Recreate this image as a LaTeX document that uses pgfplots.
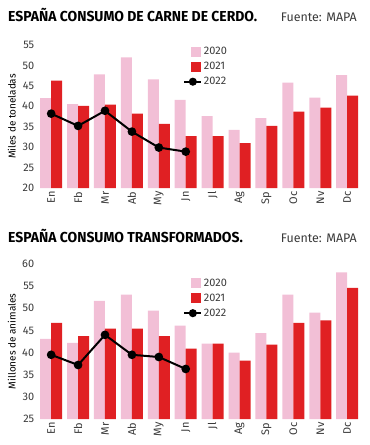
\documentclass[border=0pt]{standalone}
\usepackage{pgfplots}
\pgfplotsset{compat=1.18}
\usepackage{fontspec}
\setmainfont{Fira Sans}
\newfontfamily\titlefont[FakeStretch=0.965]{Fira Sans}
\definecolor{pinkA}{HTML}{F2BFD6}
\definecolor{redB}{HTML}{E02023}
\definecolor{txt}{HTML}{3A3A3A}

\pgfplotsset{
 mystyle/.style={
  scale only axis, width=323bp, xmin=-0.5, xmax=11.5,
  axis line style={draw=none}, major tick length=0pt,
  xtick={0,...,11}, xticklabels={En,Fb,Mr,Ab,My,Jn,Jl,Ag,Sp,Oc,Nv,Dc},
  xticklabel style={rotate=90, anchor=east, font=\fontsize{11}{12}\selectfont, text=txt},
  yticklabel style={font=\fontsize{11}{12}\selectfont, text=txt},
  /pgf/number format/assume math mode=true,
  ylabel style={font=\fontsize{11}{12}\selectfont, text=txt},
  every axis y label/.style={at={(axis description cs:-0.08,0.5)}, rotate=90, anchor=center},
  legend style={draw=none, fill=none, font=\fontsize{11}{12}\selectfont, text=txt, row sep=3pt, inner sep=0pt, cells={anchor=west}, nodes={inner sep=1.5pt}},
  legend cell align=left,
 },
 pinkbar/.style={ybar, bar width=11bp, bar shift=-5.5bp, fill=pinkA, draw=none,
   legend image code/.code={\fill[pinkA] (7bp,-5bp) rectangle (17bp,5bp);}},
 redbar/.style={ybar, bar width=11bp, bar shift=5.5bp, fill=redB, draw=none,
   legend image code/.code={\fill[redB] (7bp,-5bp) rectangle (17bp,5bp);}},
 blkline/.style={black, line width=2pt, mark=*, mark size=3.3pt, mark options={fill=black},
   legend image code/.code={\draw[black, line width=2.2pt] (0bp,0bp) -- (17bp,0bp); \fill[black] (8.5bp,0bp) circle (3bp);}},
}

\begin{document}
\begin{tikzpicture}
\useasboundingbox (0,0) rectangle (370bp,-445bp);

\node[anchor=base west, inner sep=0pt] at (8bp,-21.5bp) {\titlefont\fontsize{14.5}{16}\selectfont\bfseries ESPAÑA CONSUMO DE CARNE DE CERDO.};
\node[anchor=base east, inner sep=0pt, text=txt] at (357bp,-21.5bp) {\fontsize{12.5}{14}\selectfont Fuente: MAPA};

\begin{axis}[mystyle, at={(37.7bp,-188bp)}, anchor=south west, height=143bp,
  ymin=20, ymax=55, ytick={20,25,...,55},
  ylabel={Miles de toneladas},
  legend style={at={(0.45,0.995)}, anchor=north west}]
\addplot[pinkbar] coordinates {(0,42) (1,40.5) (2,47.8) (3,52) (4,46.6) (5,41.6) (6,37.6) (7,34.2) (8,37.1) (9,45.8) (10,42.1) (11,47.6)};
\addlegendentry{2020}
\addplot[redbar] coordinates {(0,46.3) (1,40.1) (2,40.4) (3,38.2) (4,35.7) (5,32.7) (6,32.7) (7,31.0) (8,35.2) (9,38.7) (10,39.7) (11,42.6)};
\addlegendentry{2021}
\addplot[blkline] coordinates {(0,38.2) (1,35.2) (2,38.9) (3,33.8) (4,29.9) (5,28.9)};
\addlegendentry{2022}
\end{axis}

\node[anchor=base west, inner sep=0pt] at (8bp,-242.5bp) {\titlefont\fontsize{14.5}{16}\selectfont\bfseries ESPAÑA CONSUMO TRANSFORMADOS.};
\node[anchor=base east, inner sep=0pt, text=txt] at (357bp,-242.5bp) {\fontsize{12.5}{14}\selectfont Fuente: MAPA};

\begin{axis}[mystyle, at={(37.7bp,-419bp)}, anchor=south west, height=155bp,
  ymin=25, ymax=60, ytick={25,30,...,60},
  ylabel={Millones de animales},
  legend style={at={(0.45,0.915)}, anchor=north west}]
\addplot[pinkbar] coordinates {(0,43.1) (1,42.2) (2,51.7) (3,53.1) (4,49.5) (5,46.1) (6,42.0) (7,40.0) (8,44.4) (9,53.1) (10,49.0) (11,58.1)};
\addlegendentry{2020}
\addplot[redbar] coordinates {(0,46.7) (1,43.7) (2,45.4) (3,45.4) (4,43.7) (5,40.9) (6,42.0) (7,38.2) (8,41.8) (9,46.7) (10,47.3) (11,54.6)};
\addlegendentry{2021}
\addplot[blkline] coordinates {(0,39.5) (1,37.2) (2,44.0) (3,39.5) (4,39.0) (5,36.3)};
\addlegendentry{2022}
\end{axis}
\end{tikzpicture}
\end{document}
